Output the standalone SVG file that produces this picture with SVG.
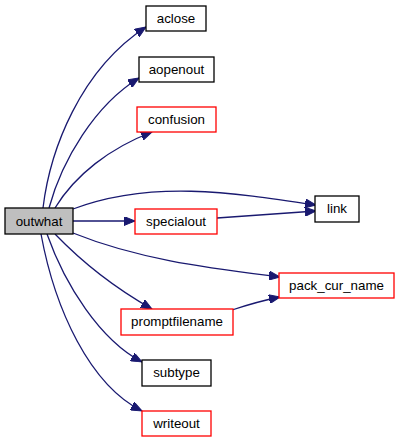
<svg xmlns="http://www.w3.org/2000/svg" width="400" height="443" viewBox="0 0 400 443">
<defs>
<style>
.n rect{fill:#fff;stroke-width:1.3}
.blk rect{stroke:#000}
.red rect{stroke:#ff0000}
.n text{font-family:"Liberation Sans",Arial,sans-serif;font-size:13.33px;text-anchor:middle;fill:#000}
.e path{fill:none;stroke:#191970;stroke-width:1.3}
</style>
<marker id="a" markerWidth="12" markerHeight="9" refX="11" refY="4.5" orient="auto" markerUnits="userSpaceOnUse">
<path d="M0,0 L11,4.5 L0,9 Z" fill="#191970" stroke="#191970" stroke-width="1"/>
</marker>
</defs>
<rect width="400" height="443" fill="#fff"/>
<g class="e">
<path d="M43,208 C50,150 80,70 146,27" marker-end="url(#a)"/>
<path d="M49,208 C62,160 95,105 139,78" marker-end="url(#a)"/>
<path d="M55,208 C75,175 110,148 152,132" marker-end="url(#a)"/>
<path d="M73,209 C150,180 230,192 316,205" marker-end="url(#a)"/>
<path d="M73,221 L135,221" marker-end="url(#a)"/>
<path d="M217,218 L316,211" marker-end="url(#a)"/>
<path d="M73,233 C140,260 210,268 280,277" marker-end="url(#a)"/>
<path d="M232,310 C250,304 265,300 280,297" marker-end="url(#a)"/>
<path d="M55,234 C80,260 115,288 152,309" marker-end="url(#a)"/>
<path d="M47,234 C65,285 100,340 142,362" marker-end="url(#a)"/>
<path d="M41,234 C55,310 90,385 142,411" marker-end="url(#a)"/>
</g>
<g id="outwhat" class="n blk"><rect x="5" y="208" width="68" height="26" style="fill:#bfbfbf"/><text x="39" y="226">outwhat</text></g>
<g id="aclose" class="n blk"><rect x="146" y="6" width="60" height="25"/><text x="176" y="23">aclose</text></g>
<g id="aopenout" class="n blk"><rect x="139" y="57" width="75" height="25"/><text x="176.5" y="74">aopenout</text></g>
<g id="confusion" class="n red"><rect x="137" y="107" width="79" height="25"/><text x="176.5" y="124">confusion</text></g>
<g id="specialout" class="n red"><rect x="135" y="209" width="82" height="25"/><text x="176" y="226">specialout</text></g>
<g id="link" class="n blk"><rect x="315" y="196" width="44" height="26"/><text x="337" y="213">link</text></g>
<g id="pack_cur_name" class="n red"><rect x="279" y="273" width="115" height="25"/><text x="336.5" y="290">pack_cur_name</text></g>
<g id="promptfilename" class="n red"><rect x="121" y="309" width="112" height="26"/><text x="177" y="326">promptfilename</text></g>
<g id="subtype" class="n blk"><rect x="142" y="360" width="69" height="26"/><text x="176.5" y="377">subtype</text></g>
<g id="writeout" class="n red"><rect x="142" y="411" width="69" height="25"/><text x="176.5" y="428">writeout</text></g>
</svg>
